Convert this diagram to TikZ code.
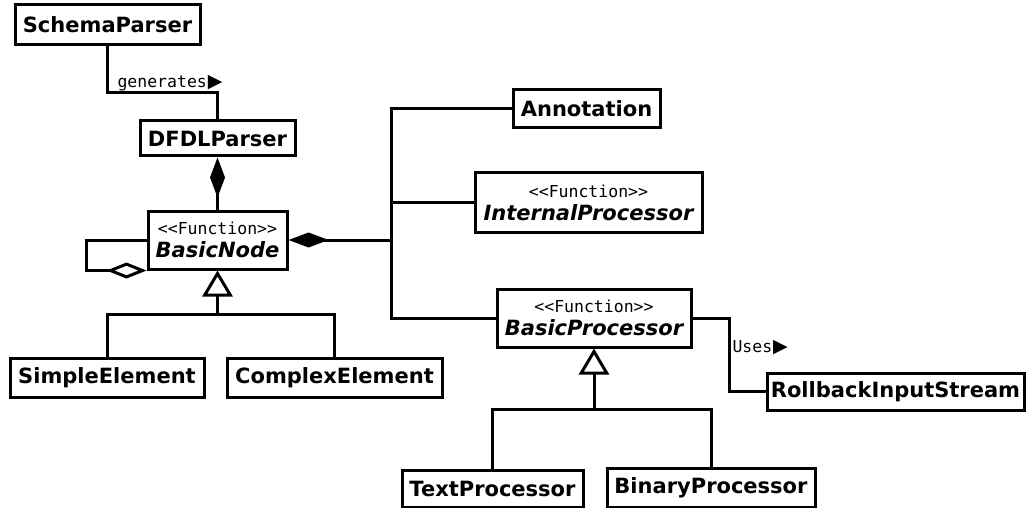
\documentclass[tikz,border=0pt]{standalone}
\usepackage{fontspec}
\setmainfont{DejaVu Sans}
\newfontfamily\stereofont{DejaVu Sans Mono}
\usetikzlibrary{arrows.meta}

\newcommand{\stereo}[1]{{\mdseries\upshape\stereofont\fontsize{16.5}{20}\selectfont #1}}
\newcommand{\absname}[1]{{\bfseries\itshape #1}}
\newcommand{\dirmark}{\kern1pt{\fontspec{DejaVu Sans}\fontsize{19}{19}\selectfont ▶}}

\begin{document}
\begin{tikzpicture}[x=1pt, y=-1pt, line width=3pt,
  cls/.style={draw, inner sep=0pt, align=center,
              font=\fontsize{21}{24}\selectfont\bfseries},
  lbl/.style={anchor=base west, inner sep=0pt,
              font=\stereofont\fontsize{16.5}{20}\selectfont},
  composite/.style={{Diamond[length=40pt,width=15pt]}-},
  aggregate/.style={-{Diamond[open,length=40pt,width=16pt]}},
  inherit/.style={-{Triangle[open,length=26pt,width=30pt]}}
]
\useasboundingbox (0,0) rectangle (1026,508);

% classes
\node[cls, minimum width=185pt, minimum height=40pt] (schema) at (107.5,25) {SchemaParser};
\node[cls, minimum width=155pt, minimum height=35pt] (dfdl) at (217.5,138.5) {DFDLParser};
\node[cls, minimum width=139pt, minimum height=58pt] (basicnode) at (217.5,240)
  {\stereo{<<Function>>}\\[-1pt]\absname{BasicNode}};
\node[cls, minimum width=147pt, minimum height=38pt] (annotation) at (586.5,109) {Annotation};
\node[cls, minimum width=227pt, minimum height=59pt] (internal) at (588.5,202.5)
  {\stereo{<<Function>>}\\[-1pt]\absname{InternalProcessor}};
\node[cls, minimum width=194pt, minimum height=58pt] (basicproc) at (594,318)
  {\stereo{<<Function>>}\\[-1pt]\absname{BasicProcessor}};
\node[cls, minimum width=257pt, minimum height=37pt] (rollback) at (895.5,391.5) {RollbackInputStream};
\node[cls, minimum width=194pt, minimum height=39pt] (simple) at (107,377.5) {SimpleElement};
\node[cls, minimum width=215pt, minimum height=39pt] (complex) at (334.5,377.5) {ComplexElement};
\node[cls, minimum width=181pt, minimum height=37pt] (text) at (492.5,488.5) {TextProcessor};
\node[cls, minimum width=208pt, minimum height=39pt] (binary) at (711,487.5) {BinaryProcessor};

% junction points
\coordinate (gen) at (107.5,93);
\coordinate (trunk) at (391,240);
\coordinate (loop) at (86,240);
\coordinate (nodejoin) at (217.5,314);
\coordinate (procjoin) at (594,409);
\coordinate (uses) at (729,318);

% SchemaParser generates DFDLParser
\draw (schema.south) -- (gen) -| (dfdl.north);
\node[lbl] (genlbl) at (116,88) {generates\dirmark};

% DFDLParser is composed of BasicNode
\draw[composite] (dfdl.south) -- (basicnode.north);

% BasicNode aggregates itself
\draw[aggregate] (basicnode.west) -- (loop) |- (basicnode.south west);

% BasicNode is composed of the processors and annotations
\draw[composite] (basicnode.east) -- (trunk);
\draw (annotation.west) -| (trunk) |- (basicproc.west);
\draw (internal.west) -- (internal.west -| trunk);

% BasicProcessor uses RollbackInputStream
\draw (basicproc.east) -- (uses) |- (rollback.west);
\node[lbl] (useslbl) at (731,352) {Uses\dirmark};

% BasicNode subclasses
\draw[inherit] (nodejoin) -- (basicnode.south);
\draw (simple.north) |- (nodejoin) -| (complex.north);

% BasicProcessor subclasses
\draw[inherit] (procjoin) -- (basicproc.south);
\draw (text.north) |- (procjoin) -| (binary.north);
\end{tikzpicture}
\end{document}
